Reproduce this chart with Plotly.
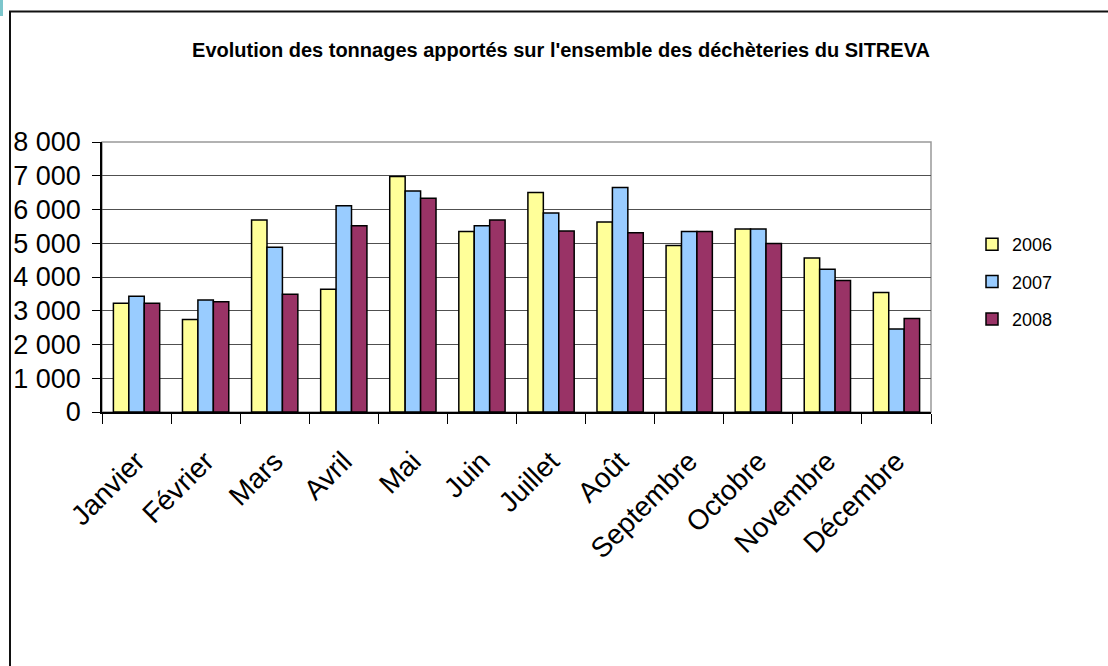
import plotly.graph_objects as go

months = ["Janvier", "Février", "Mars", "Avril", "Mai", "Juin", "Juillet",
          "Août", "Septembre", "Octobre", "Novembre", "Décembre"]
years = ["2006", "2007", "2008"]
v2006 = [3220, 2740, 5690, 3640, 6980, 5350, 6500, 5630, 4930, 5420, 4560, 3540]
v2007 = [3430, 3320, 4880, 6110, 6550, 5520, 5900, 6650, 5350, 5420, 4230, 2460]
v2008 = [3220, 3270, 3490, 5520, 6330, 5690, 5360, 5310, 5350, 4990, 3900, 2770]
colors = ["#FFFF99", "#99CCFF", "#993366"]
ytick_vals = [0, 1000, 2000, 3000, 4000, 5000, 6000, 7000, 8000]
ytick_text = ["0", "1 000", "2 000", "3 000", "4 000", "5 000", "6 000", "7 000", "8 000"]

W, H = 1108, 666
L, R, T, B = 102, 931, 142, 412
FONT = "Liberation Sans, Arial, sans-serif"


def px(x):
    return (x - L) / (R - L)


def py(y):
    return (B - y) / (B - T)


fig = go.Figure()
for name, vals, c in zip(years, [v2006, v2007, v2008], colors):
    fig.add_trace(go.Bar(x=months, y=vals, name=name, legendgroup=name,
                         marker=dict(color=c, line=dict(color="#000000", width=1.5))))

fig.update_layout(
    width=W, height=H,
    margin=dict(l=L, r=W - R, t=T, b=H - B, pad=0, autoexpand=False),
    paper_bgcolor="white", plot_bgcolor="white",
    barmode="group", bargap=0.33, bargroupgap=0,
    font=dict(family=FONT, color="#000000"),
    title=dict(text="<b>Evolution des tonnages apportés sur l'ensemble des déchèteries du SITREVA</b>",
               x=px(561), xanchor="center", xref="paper",
               y=1 - 50 / H, yanchor="middle", yref="container",
               font=dict(size=20, family=FONT, color="#000")),
    legend=dict(x=px(972), y=py(226), xanchor="left", yanchor="top",
                font=dict(size=18, family=FONT), tracegroupgap=11,
                traceorder="grouped", bgcolor="rgba(0,0,0,0)"),
    showlegend=True,
    xaxis=dict(type="category", showline=True, linecolor="#000", linewidth=1.5,
               ticks="outside", tickson="boundaries", ticklen=10, tickcolor="#000",
               tickwidth=1, tickangle=-45, tickfont=dict(size=28, family=FONT),
               ticklabelstandoff=20, showgrid=False, automargin=False),
    yaxis=dict(range=[0, 8000], tickvals=ytick_vals, ticktext=ytick_text,
               showline=True, linecolor="#000", linewidth=1.5,
               ticks="outside", ticklen=8, tickcolor="#000", tickwidth=1,
               showgrid=True, gridcolor="#505050", gridwidth=1,
               tickfont=dict(size=27, family=FONT), ticklabelstandoff=6,
               zeroline=False, automargin=False),
    shapes=[
        dict(type="rect", xref="paper", yref="paper", x0=0, x1=1, y0=0, y1=1,
             line=dict(color="#999999", width=1.5), layer="below"),
        dict(type="rect", xref="paper", yref="paper",
             x0=px(10), x1=px(1130), y0=py(11.5), y1=py(700),
             line=dict(color="#111111", width=2)),
        dict(type="rect", xref="paper", yref="paper",
             x0=px(0), x1=px(3), y0=py(0), y1=py(16),
             line=dict(width=0), fillcolor="#7cc6cc"),
    ],
)

fig.write_html("out.html", config={"displayModeBar": False},
               post_script="document.body.style.margin='0';")
